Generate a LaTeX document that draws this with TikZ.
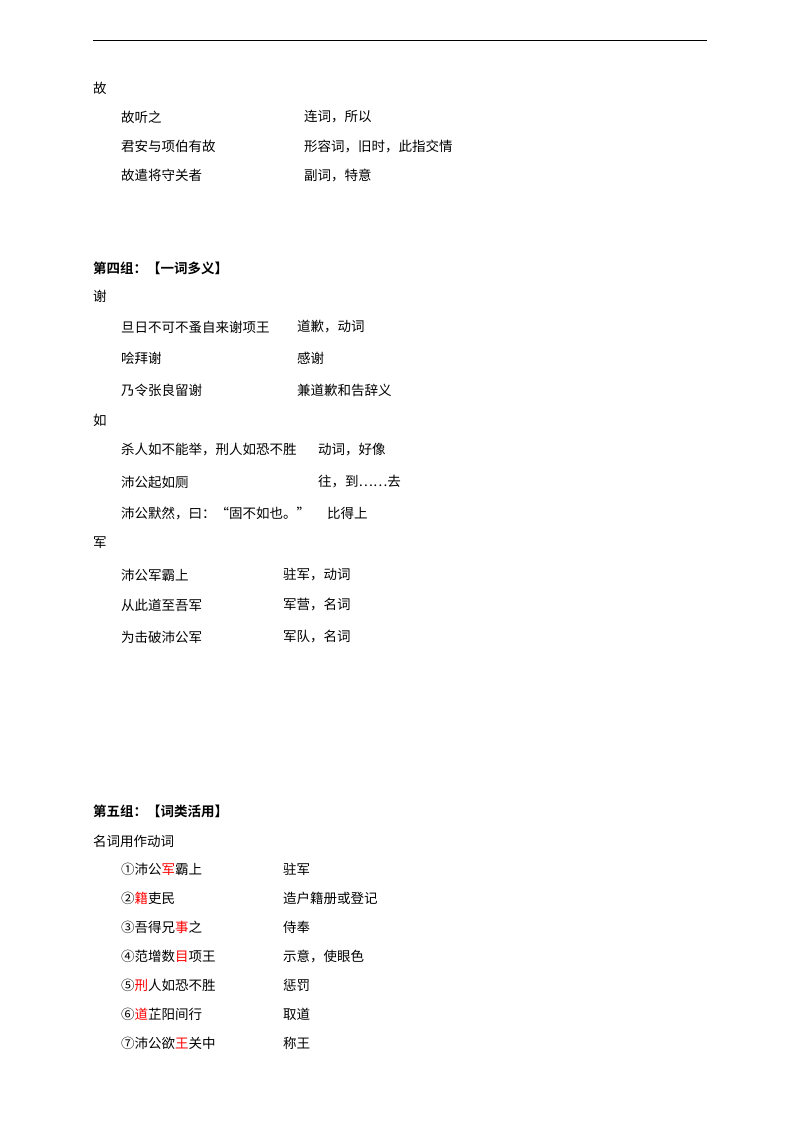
\documentclass[tikz,border=0pt]{standalone}
\usepackage{fontspec}
\newfontfamily\cjk{Noto Sans CJK SC}
\newfontfamily\cjkb{Noto Sans CJK SC Bold}
\begin{document}
\begin{tikzpicture}[x=1pt,y=-1pt,
  t/.style={anchor=west,inner sep=0pt,font=\cjk\fontsize{13.5}{14}\selectfont},
  b/.style={t,font=\cjkb\fontsize{13.5}{14}\selectfont}]
\useasboundingbox[fill=white] (0,0) rectangle (800,1132);
\coordinate (rl) at (93,40); \coordinate (rr) at (707,40);
\draw[line width=0.8pt] (rl) -- (rr);
\newcommand\R[1]{\textcolor{red}{#1}}
\node[t] (g0) at (93,88) {故};
\node[t] (g1) at (121,117) {故听之}; \node[t] (g1b) at (304,117) {连词，所以};
\node[t] (g2) at (121,146) {君安与项伯有故}; \node[t] (g2b) at (304,146) {形容词，旧时，此指交情};
\node[t] (g3) at (121,175) {故遣将守关者}; \node[t] (g3b) at (304,175) {副词，特意};
\node[b] (h4) at (93,268) {第四组：【一词多义】};
\node[t] (x0) at (93,296) {谢};
\node[t] (x1) at (121,327) {旦日不可不蚤自来谢项王}; \node[t] (x1b) at (297,327) {道歉，动词};
\node[t] (x2) at (121,358) {哙拜谢}; \node[t] (x2b) at (297,358) {感谢};
\node[t] (x3) at (121,390) {乃令张良留谢}; \node[t] (x3b) at (297,390) {兼道歉和告辞义};
\node[t] (r0) at (93,420) {如};
\node[t] (r1) at (121,450) {杀人如不能举，刑人如恐不胜}; \node[t] (r1b) at (318,450) {动词，好像};
\node[t] (r2) at (121,482) {沛公起如厕}; \node[t] (r2b) at (318,482) {往，到……去};
\node[t] (r3) at (121,513) {沛公默然，曰：“固不如也。”}; \node[t] (r3b) at (327,513) {比得上};
\node[t] (j0) at (93,543) {军};
\node[t] (j1) at (121,575) {沛公军霸上}; \node[t] (j1b) at (283,575) {驻军，动词};
\node[t] (j2) at (121,605) {从此道至吾军}; \node[t] (j2b) at (283,605) {军营，名词};
\node[t] (j3) at (121,637) {为击破沛公军}; \node[t] (j3b) at (283,637) {军队，名词};
\node[b] (h5) at (93,811) {第五组：【词类活用】};
\node[t] (m0) at (93,841) {名词用作动词};
\node[t] (m1) at (121,869) {①沛公\R{军}霸上}; \node[t] (m1b) at (283,869) {驻军};
\node[t] (m2) at (121,898) {②\R{籍}吏民}; \node[t] (m2b) at (283,898) {造户籍册或登记};
\node[t] (m3) at (121,927) {③吾得兄\R{事}之}; \node[t] (m3b) at (283,927) {侍奉};
\node[t] (m4) at (121,956) {④范增数\R{目}项王}; \node[t] (m4b) at (283,956) {示意，使眼色};
\node[t] (m5) at (121,985) {⑤\R{刑}人如恐不胜}; \node[t] (m5b) at (283,985) {惩罚};
\node[t] (m6) at (121,1014) {⑥\R{道}芷阳间行}; \node[t] (m6b) at (283,1014) {取道};
\node[t] (m7) at (121,1043) {⑦沛公欲\R{王}关中}; \node[t] (m7b) at (283,1043) {称王};
\end{tikzpicture}
\end{document}
